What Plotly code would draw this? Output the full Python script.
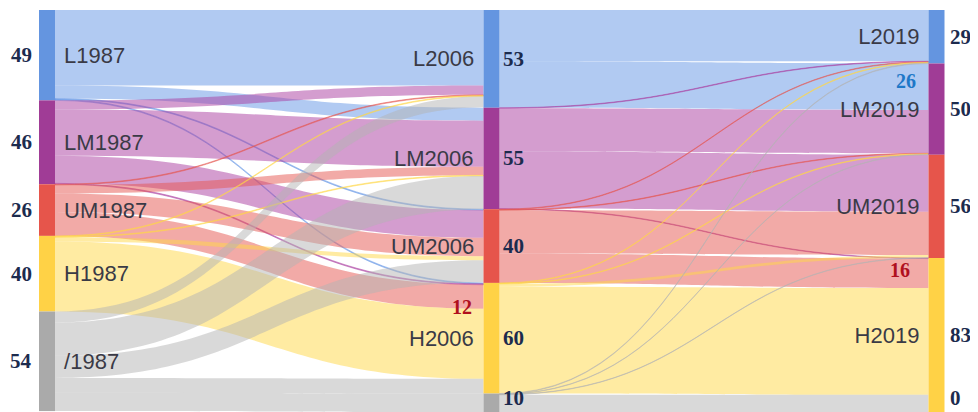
import plotly.graph_objects as go

# ---------------- data ----------------
labels_1987 = ["L1987", "LM1987", "UM1987", "H1987", "/1987"]
labels_2006 = ["L2006", "LM2006", "UM2006", "H2006", ""]
labels_2019 = ["L2019", "LM2019", "UM2019", "H2019"]

# flows 1987 -> 2006 (targets: L2006, LM2006, UM2006, H2006, /2006)
L1987_to_2006 = [41, 7, 0.5, 0.5, 0]
LM1987_to_2006 = [5, 25, 15, 0.5, 0]
UM1987_to_2006 = [0.4, 4.6, 10, 13, 0]
H1987_to_2006 = [0.4, 0.4, 2.2, 38, 0]
NA1987_to_2006 = [6, 18, 12, 8, 10]

# flows 2006 -> 2019 (targets: L2019, LM2019, UM2019, H2019)
L2006_to_2019 = [27.8, 25.2, 0, 0]
LM2006_to_2019 = [0.3, 23.5, 30.9, 0.3]
UM2006_to_2019 = [0.3, 0.3, 23.4, 16]
H2006_to_2019 = [0.3, 0.3, 1.5, 57.9]
NA2006_to_2019 = [0.3, 0.2, 0.2, 9.3]

totals_1987 = ["49", "46", "26", "40", "54"]
totals_2006 = ["53", "55", "40", "60", "10"]
totals_2019 = ["29", "50", "56", "83", "0"]

highlight_labels = ["12", "26", "16"]

# ---------------- layout / styles ----------------
# page body has an 8px margin, so the figure is sized to fill the rest of the window
OFF = 8
W, H = 978 - OFF, 412 - OFF
node_colors = ["#6495E0", "#A03C96", "#E6554B", "#FFD246", "#AAAAAA"]
link_colors = ["rgba(100,150,230,0.5)", "rgba(170,60,160,0.5)",
               "rgba(230,85,80,0.5)", "rgba(255,215,70,0.5)",
               "rgba(180,180,180,0.5)"]
NBSP = "\u00a0"

n1, n2, n3 = len(labels_1987), len(labels_2006), len(labels_2019)
off2, off3 = n1, n1 + n2
node_labels = [NBSP + s for s in labels_1987] + [""] * n2 + [s + NBSP for s in labels_2019]

src, tgt, val, lcol = [], [], [], []
for i, row in enumerate([L1987_to_2006, LM1987_to_2006, UM1987_to_2006,
                         H1987_to_2006, NA1987_to_2006]):
    for j, v in enumerate(row):
        if v > 0:
            src.append(i); tgt.append(off2 + j); val.append(v); lcol.append(link_colors[i])
for i, row in enumerate([L2006_to_2019, LM2006_to_2019, UM2006_to_2019,
                         H2006_to_2019, NA2006_to_2019]):
    for j, v in enumerate(row):
        if v > 0:
            src.append(off2 + i); tgt.append(off3 + j); val.append(v); lcol.append(link_colors[i])

N = len(node_labels)
inflow = [0.0] * N
outflow = [0.0] * N
for s, t, v in zip(src, tgt, val):
    outflow[s] += v
    inflow[t] += v
node_val = [max(a, b) for a, b in zip(inflow, outflow)]

columns = [list(range(0, n1)), list(range(off2, off2 + n2)), list(range(off3, off3 + n3))]
M = max(sum(node_val[k] for k in col) for col in columns)

top_px = 10 - OFF
plot_h = H - top_px
ky = plot_h / M
THICK = 16
col_x_px = [47 - OFF, 491.5 - OFF, 936.5 - OFF]

node_x, node_y = [0.0] * N, [0.0] * N
center_px = [0.0] * N
for c, col in enumerate(columns):
    cum = 0.0
    for k in col:
        v = node_val[k]
        node_x[k] = col_x_px[c] / W
        node_y[k] = (cum + v / 2) / M
        center_px[k] = top_px + (cum + v / 2) * ky
        cum += v

ncol = node_colors[:n1] + node_colors[:n2] + node_colors[:n3]

label_font = dict(family="Liberation Sans, Arial, sans-serif", size=22, color="#3a3a46")

fig = go.Figure(go.Sankey(
    arrangement="fixed",
    domain=dict(x=[0, 1], y=[0, 1 - top_px / H]),
    node=dict(label=node_labels, color=ncol, pad=0, thickness=THICK,
              line=dict(width=0), x=node_x, y=node_y),
    link=dict(source=src, target=tgt, value=val, color=lcol),
    textfont=dict(shadow="none", **label_font),
    hoverinfo="none",
))


def px_x(X):
    return (X - OFF) / W


def fy(p):
    return 1 - p / H


ann_font = dict(family="Liberation Serif, Times New Roman, serif", size=21,
                color="#1c2b4e", weight="bold")
anns = []
# middle column node labels (placed to the left of the nodes)
for k, txt in zip(columns[1], labels_2006):
    if txt:
        anns.append(dict(x=px_x(476), y=fy(center_px[k]), text=txt, xanchor="right",
                         yanchor="middle", font=label_font))
for k, txt in zip(columns[0], totals_1987):
    anns.append(dict(x=px_x(21), y=fy(center_px[k]), text=txt, xanchor="center",
                     yanchor="middle", font=ann_font))
for k, txt in zip(columns[1], totals_2006):
    anns.append(dict(x=px_x(501), y=fy(center_px[k]), text=txt, xanchor="left",
                     yanchor="middle", font=ann_font))
# keep the bottom number fully inside the picture
anns[-1]["yanchor"] = "bottom"
anns[-1]["y"] = 0
for k, txt in zip(columns[2], totals_2019[:n3]):
    anns.append(dict(x=px_x(948), y=fy(center_px[k]), text=txt, xanchor="left",
                     yanchor="middle", font=ann_font))
anns.append(dict(x=px_x(948), y=0, text=totals_2019[-1], xanchor="left",
                 yanchor="bottom", font=ann_font))

hl_pos = [(474, 307, "#B0101E"), (918, 81, "#1E78C8"), (912, 270, "#B0101E")]
for txt, (x, y, c) in zip(highlight_labels, hl_pos):
    anns.append(dict(x=px_x(x), y=fy(y - OFF), text=txt, xanchor="right", yanchor="middle",
                     font=dict(family="Liberation Serif, Times New Roman, serif",
                               size=20, color=c, weight="bold")))
for a in anns:
    a.update(xref="paper", yref="paper", showarrow=False)

fig.update_layout(width=W, height=H, margin=dict(l=0, r=0, t=0, b=0),
                  paper_bgcolor="white", plot_bgcolor="white",
                  annotations=anns)
fig.write_html("out.html")
